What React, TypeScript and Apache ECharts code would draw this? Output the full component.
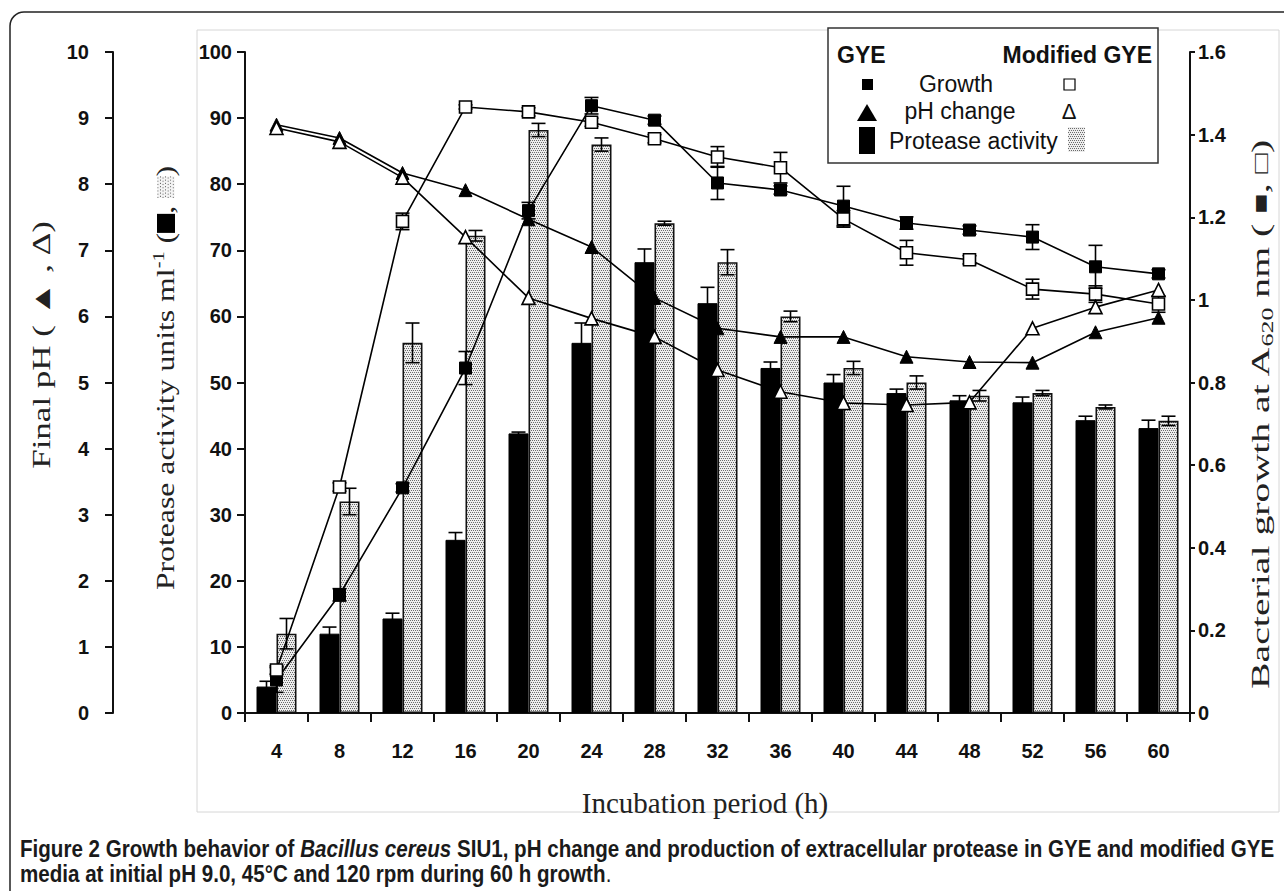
import React, { useEffect, useRef } from "react";
import * as echarts from "echarts";

// ---------------- data ----------------
const hours = ["4", "8", "12", "16", "20", "24", "28", "32", "36", "40", "44", "48", "52", "56", "60"];

// Protease activity (units ml-1), bars
const proteaseGYE = [4, 12, 14.3, 26.2, 42.3, 56, 68.2, 62, 52.2, 50, 48.4, 47.3, 47, 44.3, 43.1];
const proteaseGYEErr = [0.8, 1, 0.8, 1.1, 0.2, 3, 2, 2.4, 0.9, 1.2, 0.6, 0.7, 0.8, 0.6, 1.2];
const proteaseMod = [12, 32, 56, 72.2, 88.2, 86, 74.1, 68.2, 60, 52.2, 50, 48, 48.4, 46.3, 44.2];
const proteaseModErr = [2.3, 2, 3, 0.8, 1, 1, 0.3, 1.9, 0.8, 1, 1, 0.8, 0.4, 0.3, 0.7];

// Bacterial growth (A620)
const growthGYE = [0.08, 0.286, 0.545, 0.835, 1.216, 1.47, 1.435, 1.283, 1.266, 1.227, 1.186, 1.169, 1.152, 1.08, 1.063];
const growthGYEErr = [0.03, 0.015, 0.01, 0.04, 0.02, 0.02, 0.01, 0.04, 0.01, 0.048, 0.015, 0.01, 0.03, 0.052, 0.01];
const growthMod = [0.104, 0.547, 1.19, 1.467, 1.455, 1.43, 1.39, 1.346, 1.32, 1.196, 1.114, 1.097, 1.026, 1.014, 0.99];
const growthModErr = [0.01, 0.01, 0.02, 0.005, 0.01, 0.01, 0.01, 0.025, 0.037, 0.02, 0.03, 0.01, 0.024, 0.02, 0.02];

// Final pH
const phGYE = [8.9, 8.7, 8.17, 7.91, 7.47, 7.05, 6.28, 5.82, 5.69, 5.69, 5.39, 5.31, 5.3, 5.76, 5.98];
const phMod = [8.85, 8.64, 8.1, 7.2, 6.28, 5.97, 5.69, 5.19, 4.86, 4.69, 4.66, 4.7, 5.82, 6.14, 6.4];

// axis ticks
const phTicks = { min: 0, max: 10, interval: 1 };
const proteaseTicks = { min: 0, max: 100, interval: 10 };
const growthTicks = { min: 0, max: 1.6, interval: 0.2 };

// ---------------- helpers ----------------
function makeStipple(w: number, h: number, bg: string, dot: string, step: number): string {
  const c = document.createElement("canvas");
  c.width = w;
  c.height = h;
  const ctx = c.getContext("2d")!;
  ctx.fillStyle = bg;
  ctx.fillRect(0, 0, w, h);
  ctx.fillStyle = dot;
  for (let y = 0; y < h; y += step) {
    for (let x = (y / step) % 2 ? step / 2 : 0; x < w; x += step) {
      ctx.fillRect(Math.floor(x), y, 1, 1);
    }
  }
  return c.toDataURL();
}

const TICK_FONT = "'Liberation Sans', Arial, sans-serif";
const SERIF = "'Liberation Serif', 'Times New Roman', serif";
const SANS = "'Liberation Sans', Arial, sans-serif";

export default function App() {
  const ref = useRef<HTMLDivElement>(null);

  useEffect(() => {
    const el = ref.current!;
    const chart = echarts.init(el, undefined, { renderer: "svg" });
    const stipple = makeStipple(4, 4, "#ededed", "#6a6a6a", 2);
    const stippleFill: any = { image: stipple, repeat: "repeat" };
    const stippleIcon = makeStipple(20, 20, "#f4f4f4", "#555555", 3);

    const errRender = (offset: number, capW: number) => (params: any, api: any) => {
      const i = api.value(0);
      const v = api.value(1);
      const e = api.value(2);
      const hi = api.coord([i, v + e]);
      const lo = api.coord([i, v - e]);
      const x = hi[0] + offset;
      const st = { stroke: "#000", lineWidth: 1.6 };
      return {
        type: "group",
        children: [
          { type: "line", shape: { x1: x, y1: hi[1], x2: x, y2: lo[1] }, style: st },
          { type: "line", shape: { x1: x - capW / 2, y1: hi[1], x2: x + capW / 2, y2: hi[1] }, style: st },
          { type: "line", shape: { x1: x - capW / 2, y1: lo[1], x2: x + capW / 2, y2: lo[1] }, style: st },
        ],
      };
    };

    const errData = (vals: number[], errs: number[]) => vals.map((v, i) => [i, v, errs[i]]);

    const axisCommon = {
      axisLine: { show: true, lineStyle: { color: "#111", width: 2 } },
      axisTick: { show: true, length: 8, lineStyle: { color: "#111", width: 2 } },
      splitLine: { show: false },
      axisLabel: { color: "#111", fontFamily: TICK_FONT, fontWeight: "bold", fontSize: 20 },
    };

    const lineCommon = {
      type: "line",
      z: 5,
      lineStyle: { color: "#000", width: 1.6 },
    };

    const option: any = {
      animation: false,
      backgroundColor: "#ffffff",
      grid: { left: 245, right: 94, top: 52, bottom: 178, containLabel: false },
      xAxis: {
        type: "category",
        data: hours,
        boundaryGap: true,
        axisLine: { show: true, lineStyle: { color: "#111", width: 2 } },
        axisTick: { show: true, interval: 0, alignWithLabel: false, length: 9, lineStyle: { color: "#111", width: 2 } },
        axisLabel: { interval: 0, margin: 28, color: "#111", fontFamily: TICK_FONT, fontWeight: "bold", fontSize: 20 },
        splitLine: { show: false },
      },
      yAxis: [
        {
          type: "value",
          position: "left",
          offset: 132,
          ...phTicks,
          ...axisCommon,
          axisLabel: { ...axisCommon.axisLabel, margin: 24 },
        },
        {
          type: "value",
          position: "left",
          offset: 0,
          ...proteaseTicks,
          ...axisCommon,
          axisLabel: { ...axisCommon.axisLabel, margin: 13 },
        },
        {
          type: "value",
          position: "right",
          offset: 0,
          ...growthTicks,
          ...axisCommon,
          axisTick: { show: true, length: 5, lineStyle: { color: "#111", width: 2 } },
          axisLabel: { ...axisCommon.axisLabel, margin: 8 },
        },
      ],
      series: [
        {
          name: "Protease GYE",
          type: "bar",
          yAxisIndex: 1,
          data: proteaseGYE,
          barWidth: 20,
          barGap: "0%",
          z: 2,
          itemStyle: { color: "#000", borderColor: "#000", borderWidth: 1 },
        },
        {
          name: "Protease Modified GYE",
          type: "bar",
          yAxisIndex: 1,
          data: proteaseMod,
          barWidth: 20,
          barGap: "0%",
          z: 2,
          itemStyle: { color: stippleFill, borderColor: "#111", borderWidth: 1.6 },
        },
        {
          type: "custom",
          yAxisIndex: 1,
          z: 3,
          renderItem: errRender(-10, 14),
          data: errData(proteaseGYE, proteaseGYEErr),
          encode: { x: 0, y: 1 },
        },
        {
          type: "custom",
          yAxisIndex: 1,
          z: 3,
          renderItem: errRender(10, 14),
          data: errData(proteaseMod, proteaseModErr),
          encode: { x: 0, y: 1 },
        },
        {
          type: "custom",
          yAxisIndex: 2,
          z: 4,
          renderItem: errRender(0, 14),
          data: errData(growthGYE, growthGYEErr),
          encode: { x: 0, y: 1 },
        },
        {
          type: "custom",
          yAxisIndex: 2,
          z: 4,
          renderItem: errRender(0, 14),
          data: errData(growthMod, growthModErr),
          encode: { x: 0, y: 1 },
        },
        {
          ...lineCommon,
          name: "Growth GYE",
          yAxisIndex: 2,
          data: growthGYE,
          symbol: "rect",
          symbolSize: 12,
          itemStyle: { color: "#000", borderColor: "#000", borderWidth: 1 },
        },
        {
          ...lineCommon,
          name: "Growth Modified GYE",
          yAxisIndex: 2,
          data: growthMod,
          symbol: "rect",
          symbolSize: 12,
          itemStyle: { color: "#fff", borderColor: "#000", borderWidth: 1.6 },
        },
        {
          ...lineCommon,
          name: "pH GYE",
          yAxisIndex: 0,
          data: phGYE,
          symbol: "triangle",
          symbolSize: 13,
          itemStyle: { color: "#000", borderColor: "#000", borderWidth: 1 },
        },
        {
          ...lineCommon,
          name: "pH Modified GYE",
          yAxisIndex: 0,
          data: phMod,
          symbol: "triangle",
          symbolSize: 13,
          itemStyle: { color: "#fff", borderColor: "#000", borderWidth: 1.6 },
        },
      ],
      graphic: [
        // outer rounded frame
        {
          type: "rect",
          z: -10,
          silent: true,
          shape: { x: 10, y: 12, width: 1300, height: 900, r: 14 },
          style: { fill: "none", stroke: "#222", lineWidth: 1.5 },
        },
        // faint image frame
        {
          type: "rect",
          z: -9,
          silent: true,
          shape: { x: 197, y: 30, width: 1082, height: 782 },
          style: { fill: "none", stroke: "#d6d6d6", lineWidth: 1 },
        },
        // axis titles
        {
          type: "text",
          x: 42,
          y: 345,
          rotation: Math.PI / 2,
          scaleX: 1.4,
          style: {
            text: "Final pH ( \u25B2 , \u0394)",
            font: `25px ${SERIF}`,
            fill: "#222",
            align: "center",
            verticalAlign: "middle",
          },
        },
        {
          type: "text",
          x: 166,
          y: 378,
          rotation: Math.PI / 2,
          scaleX: 1.27,
          style: {
            text: "{t|Protease activity units ml}{sup|-1}{t| (}{blk|\u00a0}{t|, }{dot|\u00a0}{t|)}",
            fill: "#222",
            align: "center",
            verticalAlign: "middle",
            rich: {
              t: { fontFamily: SERIF, fontSize: 25, fill: "#222" },
              sup: { fontFamily: SERIF, fontSize: 16, fill: "#222", padding: [0, 0, 14, 0] },
              blk: { backgroundColor: "#000", width: 15, height: 18 },
              dot: { backgroundColor: { image: stippleIcon }, width: 17, height: 20, borderRadius: 8 },
            },
          },
        },
        {
          type: "text",
          x: 1260,
          y: 415,
          rotation: Math.PI / 2,
          scaleX: 1.53,
          style: {
            text: "{t|Bacterial growth at A}{sub|620}{t| nm ( }{b|\u25A0}{t|, }{b|\u25A1}{t|)}",
            fill: "#222",
            align: "center",
            verticalAlign: "middle",
            rich: {
              t: { fontFamily: SERIF, fontSize: 26, fill: "#222" },
              sub: { fontFamily: SERIF, fontSize: 17, fill: "#222", padding: [14, 0, 0, 0] },
              b: { fontFamily: SANS, fontSize: 22, fill: "#222" },
            },
          },
        },
        {
          type: "text",
          x: 705,
          y: 803,
          style: {
            text: "Incubation period (h)",
            font: `29px ${SERIF}`,
            fill: "#222",
            align: "center",
            verticalAlign: "middle",
          },
        },
        // legend box
        {
          type: "rect",
          z: 10,
          shape: { x: 828, y: 28, width: 330, height: 135 },
          style: { fill: "#fff", stroke: "#333", lineWidth: 1.5 },
        },
        {
          type: "text",
          z: 11,
          x: 837,
          y: 55,
          style: { text: "GYE", font: `bold 23px ${SANS}`, fill: "#111", align: "left", verticalAlign: "middle" },
        },
        {
          type: "text",
          z: 11,
          x: 1152,
          y: 55,
          style: { text: "Modified GYE", font: `bold 23px ${SANS}`, fill: "#111", align: "right", verticalAlign: "middle" },
        },
        {
          type: "rect",
          z: 11,
          shape: { x: 862, y: 79, width: 11, height: 11 },
          style: { fill: "#000" },
        },
        {
          type: "text",
          z: 11,
          x: 956,
          y: 84,
          style: { text: "Growth", font: `23px ${SANS}`, fill: "#111", align: "center", verticalAlign: "middle" },
        },
        {
          type: "rect",
          z: 11,
          shape: { x: 1064, y: 79, width: 11, height: 11 },
          style: { fill: "#fff", stroke: "#000", lineWidth: 1.2 },
        },
        {
          type: "polygon",
          z: 11,
          shape: { points: [[867, 104], [877, 121], [857, 121]] },
          style: { fill: "#000" },
        },
        {
          type: "text",
          z: 11,
          x: 960,
          y: 111,
          style: { text: "pH change", font: `23px ${SANS}`, fill: "#111", align: "center", verticalAlign: "middle" },
        },
        {
          type: "text",
          z: 11,
          x: 1069,
          y: 111,
          style: { text: "\u0394", font: `22px ${SANS}`, fill: "#111", align: "center", verticalAlign: "middle" },
        },
        {
          type: "rect",
          z: 11,
          shape: { x: 859, y: 127, width: 16, height: 27 },
          style: { fill: "#000" },
        },
        {
          type: "text",
          z: 11,
          x: 889,
          y: 141,
          style: { text: "Protease activity", font: `23px ${SANS}`, fill: "#111", align: "left", verticalAlign: "middle" },
        },
        {
          type: "rect",
          z: 11,
          shape: { x: 1068, y: 127, width: 17, height: 25 },
          style: { fill: stippleFill },
        },
        // caption
        {
          type: "text",
          x: 20,
          y: 849,
          scaleX: 0.895,
          style: {
            text: "{b|Figure 2 Growth behavior of }{i|Bacillus cereus}{b| SIU1, pH change and production of extracellular protease in GYE and modified GYE}",
            align: "left",
            verticalAlign: "middle",
            rich: {
              b: { fontFamily: SANS, fontWeight: "bold", fontSize: 23, fill: "#1a1a1a" },
              i: { fontFamily: SANS, fontWeight: "bold", fontStyle: "italic", fontSize: 23, fill: "#1a1a1a" },
            },
          },
        },
        {
          type: "text",
          x: 20,
          y: 874,
          scaleX: 0.895,
          style: {
            text: "{b|media at initial pH 9.0, 45\u00b0C and 120 rpm during 60 h growth}{n|.}",
            align: "left",
            verticalAlign: "middle",
            rich: {
              b: { fontFamily: SANS, fontWeight: "bold", fontSize: 23, fill: "#1a1a1a" },
              n: { fontFamily: SANS, fontSize: 23, fill: "#1a1a1a" },
            },
          },
        },
      ],
    };

    chart.setOption(option);
    return () => {
      chart.dispose();
    };
  }, []);

  return (
    <div
      ref={ref}
      style={{ position: "absolute", left: 0, top: 0, width: 1284, height: 891, background: "#fff" }}
    />
  );
}
